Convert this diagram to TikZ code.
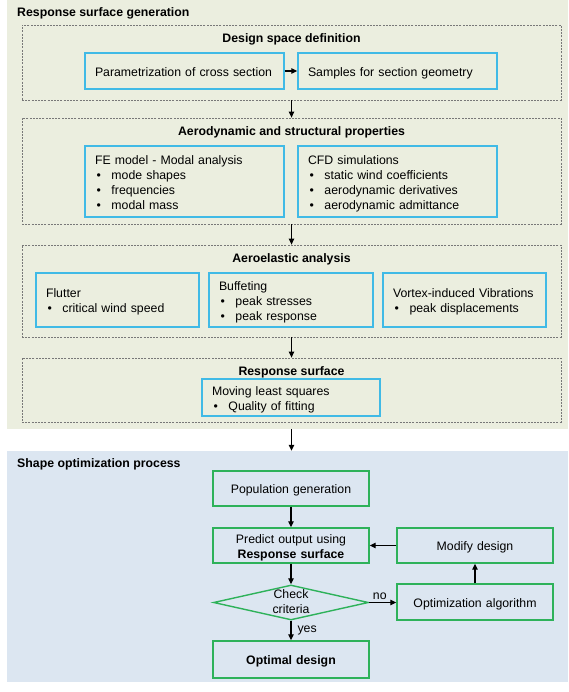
\documentclass[tikz,border=0pt]{standalone}
\usepackage{fontspec}
\setmainfont{Liberation Sans}
\usetikzlibrary{shapes.geometric,arrows.meta}
\definecolor{panelG}{RGB}{235,238,223}
\definecolor{panelB}{RGB}{220,230,241}
\definecolor{cyanB}{RGB}{64,186,230}
\definecolor{greenB}{RGB}{46,178,90}
\definecolor{dashG}{RGB}{120,120,120}
\newcommand\bitem[1]{\\\makebox[16.5pt][l]{\hspace{1.5pt}\textbullet}#1}
\begin{document}
\begin{tikzpicture}[x=1pt,y=-1pt,
  every node/.style={font=\fontsize{12.3}{15}\selectfont},
  panel/.style={rectangle, inner sep=0pt, draw=none},
  dbox/.style={rectangle, draw=dashG, line width=0.8pt, dash pattern=on 2pt off 1.2pt, inner sep=0pt},
  strutted/.style={execute at begin node=\rule{0pt}{13pt}, execute at end node=\rule[-2.8pt]{0pt}{2.8pt}},
  cbox/.style={rectangle, draw=cyanB, line width=1.4pt, inner xsep=10pt, inner ysep=0pt, align=left, strutted},
  gbox/.style={rectangle, draw=greenB, line width=1.4pt, inner xsep=10pt, inner ysep=0pt, align=center, strutted},
  ttl/.style={font=\fontsize{12.3}{15}\selectfont\bfseries, inner sep=0pt},
  arr/.style={-{Triangle[length=6pt,width=5.5pt]}, line width=1.1pt},
]
\useasboundingbox (0,0) rectangle (568,692);

% panels
\node[panel, fill=panelG, minimum width=561pt, minimum height=429pt] (gp) at (287.5,214.5) {};
\node[panel, fill=panelB, minimum width=561pt, minimum height=231pt] (bp) at (287.5,566.5) {};
\node[ttl, anchor=base west] (gpt) at (17,16.5) {Response surface generation};
\node[ttl, anchor=base west] (bpt) at (17,467.5) {Shape optimization process};

% dashed groups
\node[dbox, minimum width=539pt, minimum height=75pt] (d1) at (291.5,62.5) {};
\node[dbox, minimum width=539pt, minimum height=106pt] (d2) at (291.5,171) {};
\node[dbox, minimum width=539pt, minimum height=92pt] (d3) at (291.5,291) {};
\node[dbox, minimum width=539pt, minimum height=64pt] (d4) at (291.5,390) {};
\node[ttl, anchor=base] (d1t) at (291.5,42.3) {Design space definition};
\node[ttl, anchor=base] (d2t) at (291.5,135.3) {Aerodynamic and structural properties};
\node[ttl, anchor=base] (d3t) at (291.5,262) {Aeroelastic analysis};
\node[ttl, anchor=base] (d4t) at (291.5,375.5) {Response surface};

% cyan boxes
\node[cbox, text width=179pt, minimum height=36pt] (par) at (184.5,71) {Parametrization of cross section};
\node[cbox, text width=179pt, minimum height=36pt] (smp) at (397.5,71) {Samples for section geometry};
\node[cbox, text width=179pt, minimum height=71pt] (fe) at (184.5,181.5) {FE model - Modal analysis\bitem{mode shapes}\bitem{frequencies}\bitem{modal mass}};
\node[cbox, text width=179pt, minimum height=71pt] (cfd) at (397.5,181.5) {CFD simulations\bitem{static wind coefficients}\bitem{aerodynamic derivatives}\bitem{aerodynamic admittance}};
\node[cbox, text width=143pt, minimum height=54pt] (flu) at (117.5,300) {Flutter\bitem{critical wind speed}};
\node[cbox, text width=144pt, minimum height=54pt] (buf) at (291,300) {Buffeting\bitem{peak stresses}\bitem{peak response}};
\node[cbox, text width=143pt, minimum height=54pt] (viv) at (464.5,300) {Vortex-induced Vibrations\bitem{peak displacements}};
\node[cbox, text width=158pt, minimum height=37pt] (mls) at (291,397.5) {Moving least squares\bitem{Quality of fitting}};

% green boxes
\node[gbox, text width=136pt, minimum height=35pt] (pop) at (291,488.5) {Population generation};
\node[gbox, text width=136pt, minimum height=35pt] (pre) at (291,545.5) {Predict output using\\\textbf{Response surface}};
\node[gbox, text width=136pt, minimum height=35pt] (mod) at (475,545.5) {Modify design};
\node[diamond, draw=greenB, line width=1.4pt, minimum width=155pt, minimum height=35pt, inner sep=0pt] (chk) at (291,602.5) {};
\node[align=center, inner sep=0pt, strutted] (chkt) at (chk.center) {Check\\criteria};
\node[gbox, text width=136pt, minimum height=36pt] (alg) at (475,602) {Optimization algorithm};
\node[gbox, text width=136pt, minimum height=37pt] (opt) at (291,659.5) {\textbf{Optimal design}};

% arrows
\draw[arr] (par) -- (smp);
\draw[arr] (d1) -- (d2);
\draw[arr] (d2) -- (d3);
\draw[arr] (d3) -- (d4);
\draw[arr] (d4.south |- gp.south) -- (d4.south |- bp.north);
\draw[arr] (pop) -- (pre);
\draw[arr] (pre) -- (chk);
\draw[arr] (chk) -- node[right, inner sep=0pt, xshift=6pt] (yes) {yes} (opt);
\draw[arr] (chk.east) -- node[above, inner sep=2pt, xshift=-3pt] (no) {no} (chk.east -| alg.west);
\draw[arr] (alg) -- (mod);
\draw[arr] (mod) -- (pre);
\end{tikzpicture}
\end{document}
